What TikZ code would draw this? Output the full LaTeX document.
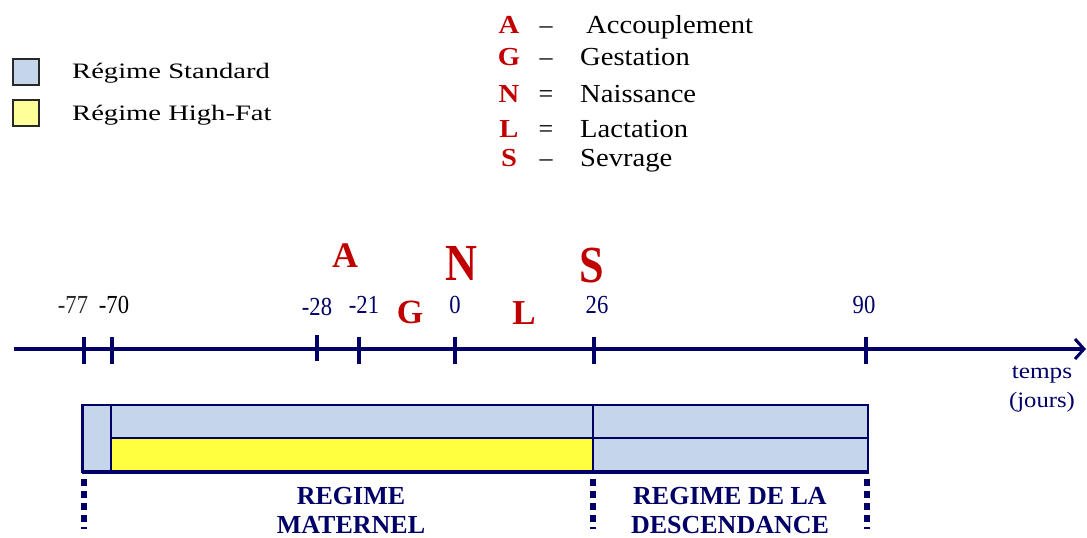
\documentclass[tikz,border=0pt]{standalone}
\usepackage{fontspec}
\usepackage{graphicx}
\setmainfont{Liberation Serif}
\usetikzlibrary{arrows.meta}
\definecolor{navy}{RGB}{0,0,102}
\definecolor{lblue}{RGB}{197,213,234}
\definecolor{hfyel}{RGB}{255,255,64}
\definecolor{legyel}{RGB}{255,255,153}
\definecolor{dred}{RGB}{192,0,0}
\definecolor{dgray}{RGB}{40,40,40}
\begin{document}
\begin{tikzpicture}[x=1pt,y=-1pt,
  legbox/.style={draw=dgray,line width=2.5pt,minimum size=26pt,inner sep=0pt},
  legtext/.style={anchor=base west,inner sep=0pt,font=\fontsize{22}{26}\selectfont},
  keylet/.style={anchor=base,inner sep=0pt,text=dred,font=\fontsize{26}{30}\selectfont\bfseries},
  keysym/.style={anchor=base,inner sep=0pt,font=\fontsize{26}{30}\selectfont},
  keyword/.style={anchor=base west,inner sep=0pt,font=\fontsize{26}{30}\selectfont},
  axisline/.style={navy,line width=4pt,-{Straight Barb[length=9pt,width=20pt,line width=3pt]}},
  tickline/.style={navy,line width=4pt},
  tlab/.style={anchor=base,inner sep=0pt,text=navy,font=\fontsize{26}{30}\selectfont},
  evlet/.style={anchor=base,inner sep=0pt,text=dred,font=\bfseries},
  regline/.style={navy,line width=2.5pt},
  marker/.style={navy,line width=6pt,dash pattern=on 7pt off 5pt},
  regtext/.style={anchor=base,inner sep=0pt,align=center,text=navy,font=\fontsize{26}{29}\selectfont\bfseries}
]
\useasboundingbox (0,0) rectangle (1087,538);

% legend left
\node[legbox,fill=lblue] (lbstd) at (26,72) {};
\node[legbox,fill=legyel] (lbhf) at (26,113) {};
\node[legtext] (ltstd) at (72,78) {\scalebox{1.3}[1]{Régime Standard}};
\node[legtext] (lthf) at (72,120) {\scalebox{1.3}[1]{Régime High-Fat}};

% legend right
\node[keylet] (kA) at (509,33) {\scalebox{1.1}[1]{A}};
\node[keylet] (kG) at (509,65) {\scalebox{1.1}[1]{G}};
\node[keylet] (kN) at (509,102) {\scalebox{1.1}[1]{N}};
\node[keylet] (kL) at (509,137) {\scalebox{1.1}[1]{L}};
\node[keylet] (kS) at (509,166) {\scalebox{1.1}[1]{S}};
\node[keysym] (dA) at (546,33) {–};
\node[keysym] (dG) at (546,65) {–};
\node[keysym] (dN) at (546,102) {=};
\node[keysym] (dL) at (546,137) {=};
\node[keysym] (dS) at (546,166) {–};
\node[keyword] (wA) at (586,33) {\scalebox{1.1}[1]{Accouplement}};
\node[keyword] (wG) at (580,65) {\scalebox{1.1}[1]{Gestation}};
\node[keyword] (wN) at (580,102) {\scalebox{1.1}[1]{Naissance}};
\node[keyword] (wL) at (580,137) {\scalebox{1.1}[1]{Lactation}};
\node[keyword] (wS) at (580,166) {\scalebox{1.1}[1]{Sevrage}};

% time axis
\coordinate (axstart) at (14,349);
\coordinate (axend) at (1086,349);
\draw[axisline] (axstart) -- (axend);
\foreach \tx in {84,111.5,358.5,455,594,866}
  \draw[tickline] (\tx,337) -- (\tx,364);
\draw[tickline] (317,335) -- (317,361);

% tick labels
\node[tlab,text=dgray] (l77) at (73,313) {\scalebox{0.87}[1]{-77}};
\node[tlab,text=black] (l70) at (114,313) {\scalebox{0.87}[1]{-70}};
\node[tlab] (l28) at (317,315) {\scalebox{0.87}[1]{-28}};
\node[tlab] (l21) at (364,313) {\scalebox{0.87}[1]{-21}};
\node[tlab] (l0) at (455,313) {\scalebox{0.87}[1]{0}};
\node[tlab] (l26) at (597,313) {\scalebox{0.87}[1]{26}};
\node[tlab] (l90) at (864,313) {\scalebox{0.87}[1]{90}};

% event letters
\node[evlet,font=\fontsize{36}{40}\selectfont\bfseries] (eA) at (345,267) {A};
\node[evlet,font=\fontsize{52}{56}\selectfont\bfseries] (eN) at (461,280) {\scalebox{0.85}[1]{N}};
\node[evlet,font=\fontsize{52}{56}\selectfont\bfseries] (eS) at (592,282) {\scalebox{0.85}[1]{S}};
\node[evlet,font=\fontsize{34}{38}\selectfont\bfseries] (eG) at (410,323) {G};
\node[evlet,font=\fontsize{35}{38}\selectfont\bfseries] (eL) at (524,324) {L};

% temps (anchor base = baseline of last line)
\node[anchor=base,inner sep=0pt,align=center,text=navy,font=\fontsize{22}{29}\selectfont] (temps) at (1042,407) {\scalebox{1.15}[1]{temps}\\\scalebox{1.12}[1]{(jours)}};

% regime bars
\fill[lblue] (83,405) rectangle (868,472);
\fill[hfyel] (111,438) rectangle (593,472);
\draw[regline] (111,405) -- (111,472);
\draw[regline] (111,438) -- (868,438);
\draw[regline] (593,405) -- (593,472);
\draw[regline] (83,405) rectangle (868,472);
\draw[navy,line width=4pt] (81.5,472) -- (869,472);
\draw[navy,line width=3.5pt] (82.5,404) -- (82.5,473);

% markers
\draw[marker] (84,479) -- (84,529);
\draw[marker] (593,479) -- (593,529);
\draw[marker] (867,479) -- (867,529);

% regime labels (anchor base = baseline of last line)
\node[regtext] (rmat) at (351,533) {REGIME\\MATERNEL};
\node[regtext] (rdesc) at (730,533) {REGIME DE LA\\DESCENDANCE};
\end{tikzpicture}
\end{document}
